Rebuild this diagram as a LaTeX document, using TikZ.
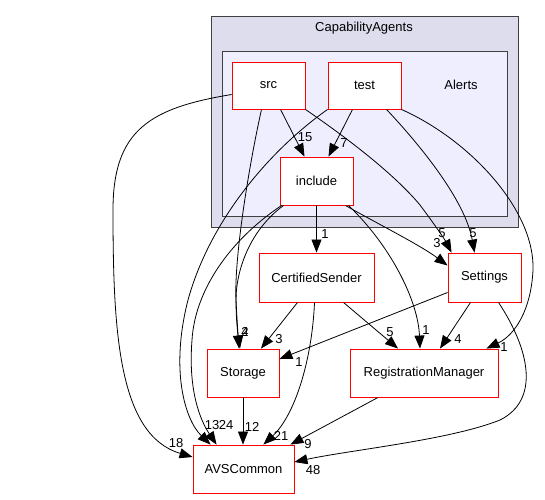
\documentclass[tikz,border=0pt]{standalone}
\usepackage{fontspec}
\setmainfont{Liberation Sans}
\usetikzlibrary{arrows.meta,calc}
\definecolor{outerfill}{HTML}{DDDDEE}
\definecolor{innerfill}{HTML}{EEEEFF}
\definecolor{clusterline}{HTML}{404040}
\begin{document}
\begin{tikzpicture}[x=1pt,y=-1pt,
  every node/.style={font=\fontsize{13}{15}\selectfont},
  dirbox/.style={draw=red, line width=0.9pt, fill=white, inner sep=0pt},
  lbl/.style={inner sep=0pt, font=\fontsize{13}{15}\selectfont},
  dep/.style={draw=black, line width=0.8pt, -{Triangle[length=13pt,width=10pt]}},
  clusterbox/.style={draw=clusterline, line width=1pt}]
\useasboundingbox (0,0) rectangle (545,499);
% clusters
\draw[clusterbox, fill=outerfill] (211,16) rectangle (518,227);
\node[lbl] (capname) at (364,28) {CapabilityAgents};
\draw[clusterbox, fill=innerfill] (222,51) rectangle (507,216);
\node[lbl] (alertsname) at (461,85) {Alerts};
% nodes
\node[dirbox, minimum width=73pt, minimum height=47pt] (src) at (268.5,85.5) {src};
\node[dirbox, minimum width=73pt, minimum height=47pt] (test) at (364.5,85.5) {test};
\node[dirbox, minimum width=73pt, minimum height=48pt] (include) at (316.5,181) {include};
\node[dirbox, minimum width=115pt, minimum height=49pt] (cert) at (316.5,277.5) {CertifiedSender};
\node[dirbox, minimum width=73pt, minimum height=49pt] (settings) at (484.5,277.5) {Settings};
\node[dirbox, minimum width=72pt, minimum height=48pt] (storage) at (243,373) {Storage};
\node[dirbox, minimum width=148pt, minimum height=48pt] (regman) at (424,373) {RegistrationManager};
\node[dirbox, minimum width=101pt, minimum height=48pt] (avs) at (243.5,469) {AVSCommon};
% edges
% src -> AVSCommon
\draw[dep] ($(src.west)+(0,9)$) .. controls (150,108) and (113,130) .. (113,210)
  .. controls (113,330) and (118,435) .. ($(avs.west)+(0,-12)$);
\node[lbl] (l18) at (176,443) {18};
% src -> include
\draw[dep] ($(src.south)+(12,0)$) -- ($(include.north)+(-12,0)$);
\node[lbl] (l15) at (305,137) {15};
% src -> Settings
\draw[dep] (src.south east) .. controls (350,140) and (395,175) .. (420,205)
  .. controls (435,225) and (445,240) .. ($(settings.north west)+(4,0)$);
\node[lbl] (l5a) at (442,233) {5};
% src -> Storage
\draw[dep] ($(src.south)+(-7,0)$) .. controls (248,170) and (234,260) .. (236,300)
  .. controls (237,320) and (238,335) .. ($(storage.north)+(-3,0)$);
\node[lbl] (l2) at (245,332) {2};
% test -> include
\draw[dep] ($(test.south)+(-12,0)$) -- ($(include.north)+(12,0)$);
\node[lbl] (l7) at (344,143) {7};
% test -> AVSCommon
\draw[dep] (test.south west) .. controls (270,150) and (210,220) .. (188,300)
  .. controls (170,370) and (185,420) .. ($(avs.north west)+(18,0)$);
\node[lbl] (l13) at (212,425) {13};
% test -> Settings
\draw[dep] ($(test.south)+(22,0)$) .. controls (420,145) and (465,200) .. ($(settings.north)+(-10,0)$);
\node[lbl] (l5b) at (473,233) {5};
% test -> RegistrationManager
\draw[dep] (test.south east) .. controls (470,140) and (535,210) .. (533,270)
  .. controls (531,310) and (515,335) .. ($(regman.north east)+(-12,0)$);
\node[lbl] (l1a) at (504,347) {1};
% include -> CertifiedSender
\draw[dep] (include.south) -- (cert.north);
\node[lbl] (l1b) at (325,234) {1};
% include -> Storage
\draw[dep] ($(include.south west)+(4,0)$) .. controls (250,230) and (236,270) .. (236,300)
  .. controls (236,320) and (238,335) .. ($(storage.north)+(-4,0)$);
\node[lbl] (l4a) at (245,332) {4};
% include -> AVSCommon
\draw[dep] ($(include.south west)+(2,0)$) .. controls (230,240) and (195,290) .. (192,340)
  .. controls (188,390) and (200,420) .. ($(avs.north west)+(24,0)$);
\node[lbl] (l24) at (226,425) {24};
% include -> Settings
\draw[dep] ($(include.south east)+(-8,0)$) .. controls (380,225) and (420,245) .. ($(settings.west)+(0,-12)$);
\node[lbl] (l3a) at (437,243) {3};
% include -> RegistrationManager
\draw[dep] ($(include.south east)+(-5,0)$) .. controls (390,245) and (418,300) .. ($(regman.north)+(-4,0)$);
\node[lbl] (l1c) at (426,330) {1};
% CertifiedSender -> Storage
\draw[dep] ($(cert.south)+(-19,0)$) -- ($(storage.north)+(18,0)$);
\node[lbl] (l3b) at (279,339) {3};
% CertifiedSender -> AVSCommon
\draw[dep] ($(cert.south)+(-2,0)$) .. controls (312,360) and (295,415) .. ($(avs.north east)+(-31,0)$);
\node[lbl] (l21) at (281,436) {21};
% CertifiedSender -> RegistrationManager
\draw[dep] ($(cert.south)+(27,0)$) -- ($(regman.north)+(-26,0)$);
\node[lbl] (l5c) at (390,332) {5};
% Settings -> Storage
\draw[dep] ($(settings.west)+(0,15)$) -- ($(storage.east)+(0,-14)$);
\node[lbl] (l1d) at (299,362) {1};
% Settings -> RegistrationManager
\draw[dep] ($(settings.south)+(-14,0)$) -- ($(regman.north)+(16,0)$);
\node[lbl] (l4b) at (458,339) {4};
% Settings -> AVSCommon
\draw[dep] ($(settings.south)+(14,0)$) .. controls (530,350) and (540,400) .. (500,420)
  .. controls (450,440) and (350,450) .. ($(avs.east)+(0,-7)$);
\node[lbl] (l48) at (313,470) {48};
% Storage -> AVSCommon
\draw[dep] (storage.south) -- ($(avs.north)+(-0.5,0)$);
\node[lbl] (l12) at (252,427) {12};
% RegistrationManager -> AVSCommon
\draw[dep] ($(regman.south)+(-46,0)$) -- ($(avs.north east)+(-4,0)$);
\node[lbl] (l9) at (308,444) {9};
\end{tikzpicture}
\end{document}
